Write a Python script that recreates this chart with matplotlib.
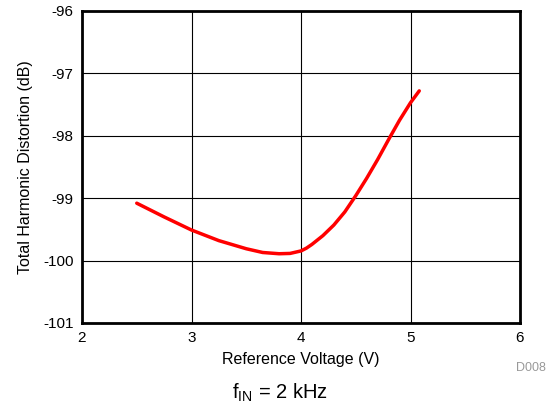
import matplotlib
matplotlib.use("Agg")
import matplotlib.pyplot as plt

plt.rcParams.update({
    "font.family": ["Liberation Sans", "DejaVu Sans"],
    "font.size": 10,
})

# THD vs reference voltage
vref = [2.5, 2.75, 3.0, 3.25, 3.5, 3.65, 3.8, 3.9, 4.0, 4.05, 4.1, 4.2, 4.3,
        4.4, 4.5, 4.6, 4.7, 4.8, 4.9, 5.0, 5.08]
thd = [-99.08, -99.30, -99.51, -99.68, -99.81, -99.87, -99.89, -99.885, -99.845,
       -99.80, -99.74, -99.60, -99.43, -99.22, -98.96, -98.68, -98.38, -98.06,
       -97.75, -97.47, -97.28]

x_ticks = [2, 3, 4, 5, 6]
y_ticks = [-101, -100, -99, -98, -97, -96]

fig = plt.figure(figsize=(5.55, 4.04), dpi=100)
ax = fig.add_axes([82 / 555, 81 / 404, 438 / 555, 312 / 404])

ax.plot(vref, thd, color="#ff0000", linewidth=2.5, solid_capstyle="round",
        solid_joinstyle="round", zorder=3)

ax.set_xlim(2, 6)
ax.set_ylim(-101, -96)
ax.set_xticks(x_ticks)
ax.set_yticks(y_ticks)
ax.set_xticklabels([str(v) for v in x_ticks])
ax.set_yticklabels([str(v) for v in y_ticks])
ax.tick_params(length=0, labelsize=11, pad=6)
ax.grid(True, color="black", linewidth=0.8)
for s in ax.spines.values():
    s.set_linewidth(2)

ax.set_xlabel("Reference Voltage (V)", fontsize=11.5, labelpad=5)
ax.set_ylabel("Total Harmonic Distortion (dB)", fontsize=11.5, labelpad=7)

fig.text(531 / 555, 1 - 368 / 404, "D008", color="#999999", fontsize=9,
         ha="center", va="center")
fig.text(280 / 555, 1 - 393 / 404, r"f$_{\mathregular{IN}}$ = 2 kHz", fontsize=14.5,
         ha="center", va="center")

fig.savefig("out.png", dpi=100)
